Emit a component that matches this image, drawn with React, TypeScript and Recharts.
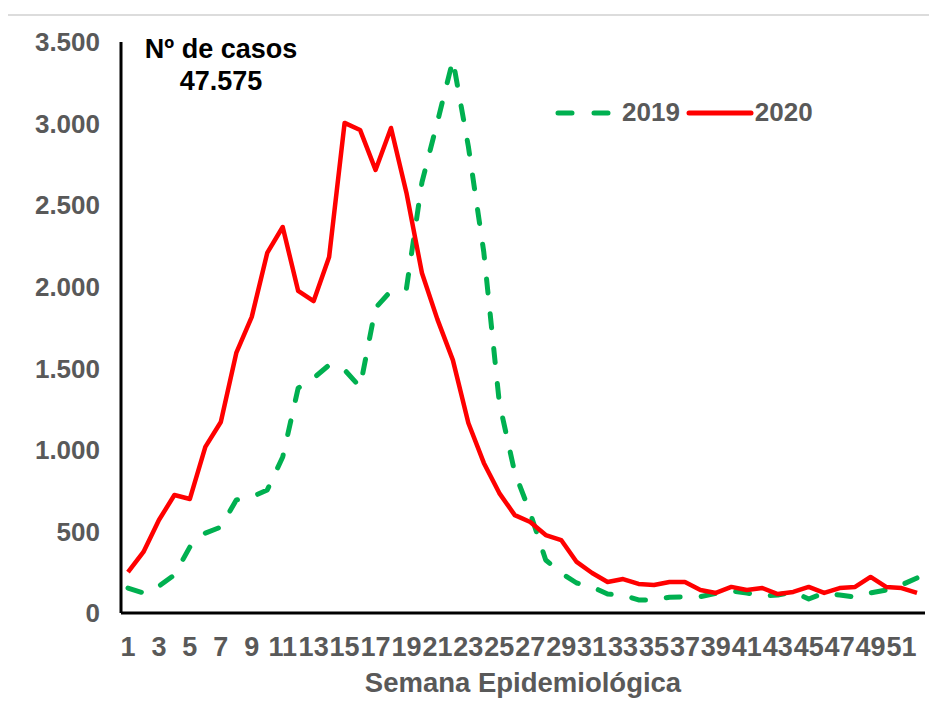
import { LineChart, Line, XAxis, YAxis } from "recharts";

const WEEKS = [
  1, 2, 3, 4, 5, 6, 7, 8, 9, 10, 11, 12, 13, 14, 15, 16, 17, 18, 19, 20, 21, 22, 23, 24, 25, 26,
  27, 28, 29, 30, 31, 32, 33, 34, 35, 36, 37, 38, 39, 40, 41, 42, 43, 44, 45, 46, 47, 48, 49, 50, 51, 52,
];

const CASES_2019 = [
  153, 123, 165, 233, 405, 490, 527, 693, 711, 754, 956, 1379, 1440, 1520, 1490, 1385, 1870, 1975,
  1990, 2640, 3010, 3390, 2860, 2210, 1290, 860, 613, 325, 245, 184, 160, 116, 110, 80, 80, 97,
  98, 100, 120, 135, 123, 104, 110, 130, 86, 123, 110, 98, 123, 141, 172, 215,
];

const CASES_2020 = [
  250, 374, 570, 723, 699, 1018, 1171, 1594, 1815, 2207, 2366, 1974, 1912, 2182, 3004, 2961, 2716,
  2973, 2575, 2084, 1800, 1550, 1165, 920, 735, 600, 558, 478, 447, 313, 245, 190, 208, 178, 172,
  190, 190, 141, 123, 160, 141, 153, 116, 129, 160, 123, 153, 160, 221, 160, 153, 123,
];

const Y_TICKS = [0, 500, 1000, 1500, 2000, 2500, 3000, 3500];

const GREEN = "#00B050";
const RED = "#FF0000";
const GREY = "#595959";
const FONT = "'Liberation Sans', Arial, sans-serif";

const data = WEEKS.map((w, i) => ({ week: w, y2019: CASES_2019[i], y2020: CASES_2020[i] }));

const fmt = (v: number) => String(v).replace(/\B(?=(\d{3})+(?!\d))/g, ".");

export default function App() {
  return (
    <div style={{ position: "relative", width: 937, height: 713, margin: "-8px 0 0 -8px", fontFamily: FONT, background: "#fff" }}>
      <div style={{ position: "absolute", left: 5, top: 14, right: 0, bottom: 0, borderLeft: "2px solid #dcdcdc", borderTop: "2px solid #dcdcdc" }} />
      <LineChart width={937} height={713} data={data} margin={{ top: 42, right: 12, bottom: 0, left: 21 }}>
        <XAxis
          dataKey="week"
          interval={1}
          padding={{ left: 7, right: 8 }}
          height={100}
          tickLine={false}
          tickSize={0}
          tickMargin={24}
          axisLine={{ stroke: "#000", strokeWidth: 3 }}
          tick={{ fill: GREY, fontSize: 27, fontWeight: 700, fontFamily: FONT }}
          label={{ value: "Semana Epidemiológica", position: "insideBottom", offset: 21, fill: GREY, fontSize: 27.5, fontWeight: 700, fontFamily: FONT }}
        />
        <YAxis
          domain={[0, 3500]}
          ticks={Y_TICKS}
          width={100}
          tickLine={false}
          tickSize={0}
          tickMargin={21}
          tickFormatter={fmt}
          axisLine={{ stroke: "#000", strokeWidth: 3 }}
          tick={{ fill: GREY, fontSize: 26, fontWeight: 700, fontFamily: FONT }}
        />
        <Line
          dataKey="y2019"
          type="linear"
          stroke={GREEN}
          strokeWidth={5}
          strokeDasharray="14 21"
          strokeLinecap="round"
          strokeLinejoin="round"
          dot={false}
          isAnimationActive={false}
        />
        <Line
          dataKey="y2020"
          type="linear"
          stroke={RED}
          strokeWidth={4.5}
          strokeLinejoin="round"
          dot={false}
          isAnimationActive={false}
        />
      </LineChart>

      <div style={{ position: "absolute", left: 121, top: 33, width: 200, textAlign: "center", fontSize: 27, fontWeight: 700, color: "#000", lineHeight: "32px" }}>
        <div>Nº de casos</div>
        <div>47.575</div>
      </div>

      <div style={{ position: "absolute", left: 553, top: 97, display: "flex", alignItems: "center", fontSize: 26, fontWeight: 700, color: GREY }}>
        <svg width={62} height={10}>
          <line x1={5} y1={5} x2={58} y2={5} stroke={GREEN} strokeWidth={5} strokeDasharray="14 22" strokeLinecap="round" />
        </svg>
        <span style={{ marginLeft: 7 }}>2019</span>
        <svg width={68} height={10} style={{ marginLeft: 6 }}>
          <line x1={3} y1={5} x2={65} y2={5} stroke={RED} strokeWidth={5} strokeLinecap="round" />
        </svg>
        <span style={{ marginLeft: 1 }}>2020</span>
      </div>
    </div>
  );
}
